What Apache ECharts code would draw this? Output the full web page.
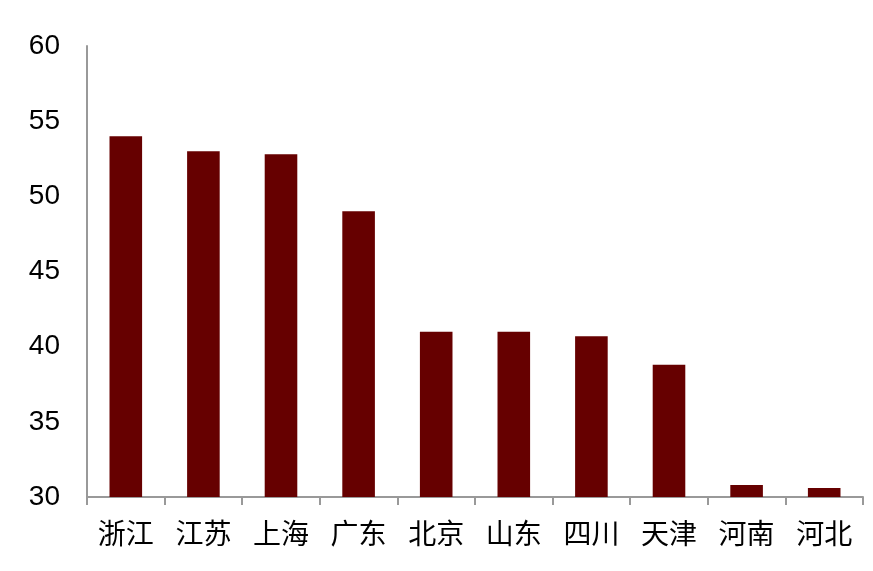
<!DOCTYPE html>
<html><head><meta charset="utf-8">
<script src="https://cdn.jsdelivr.net/npm/echarts@6/dist/echarts.min.js"></script>
<style>html,body{margin:0;padding:0;background:#fff}#c{width:873px;height:571px}</style>
</head><body><div id="c"></div>
<script>
const categories = ['浙江','江苏','上海','广东','北京','山东','四川','天津','河南','河北'];
const values = [54.0, 53.0, 52.8, 49.0, 41.0, 41.0, 40.7, 38.8, 30.8, 30.6];
const yTicks = {min: 30, max: 60, interval: 5};

const chart = echarts.init(document.getElementById('c'));
chart.setOption({
  animation: false,
  grid: {left: 87, right: 10, top: 46, bottom: 74},
  xAxis: {
    type: 'category', data: categories, boundaryGap: true,
    axisLine: {lineStyle: {color: '#999', width: 2}},
    axisTick: {show: true, length: 8, lineStyle: {color: '#999', width: 2}},
    axisLabel: {color: '#000', fontSize: 28, margin: 22, fontFamily: 'Noto Sans CJK SC'}
  },
  yAxis: {
    type: 'value', min: yTicks.min, max: yTicks.max, interval: yTicks.interval,
    axisLine: {show: true, lineStyle: {color: '#999', width: 2}},
    axisTick: {show: false},
    splitLine: {show: false},
    axisLabel: {color: '#000', fontSize: 28, margin: 27, fontFamily: 'Liberation Sans'}
  },
  series: [{
    type: 'bar', data: values, barWidth: '42%',
    itemStyle: {color: '#660000'}
  }]
});
</script></body></html>
